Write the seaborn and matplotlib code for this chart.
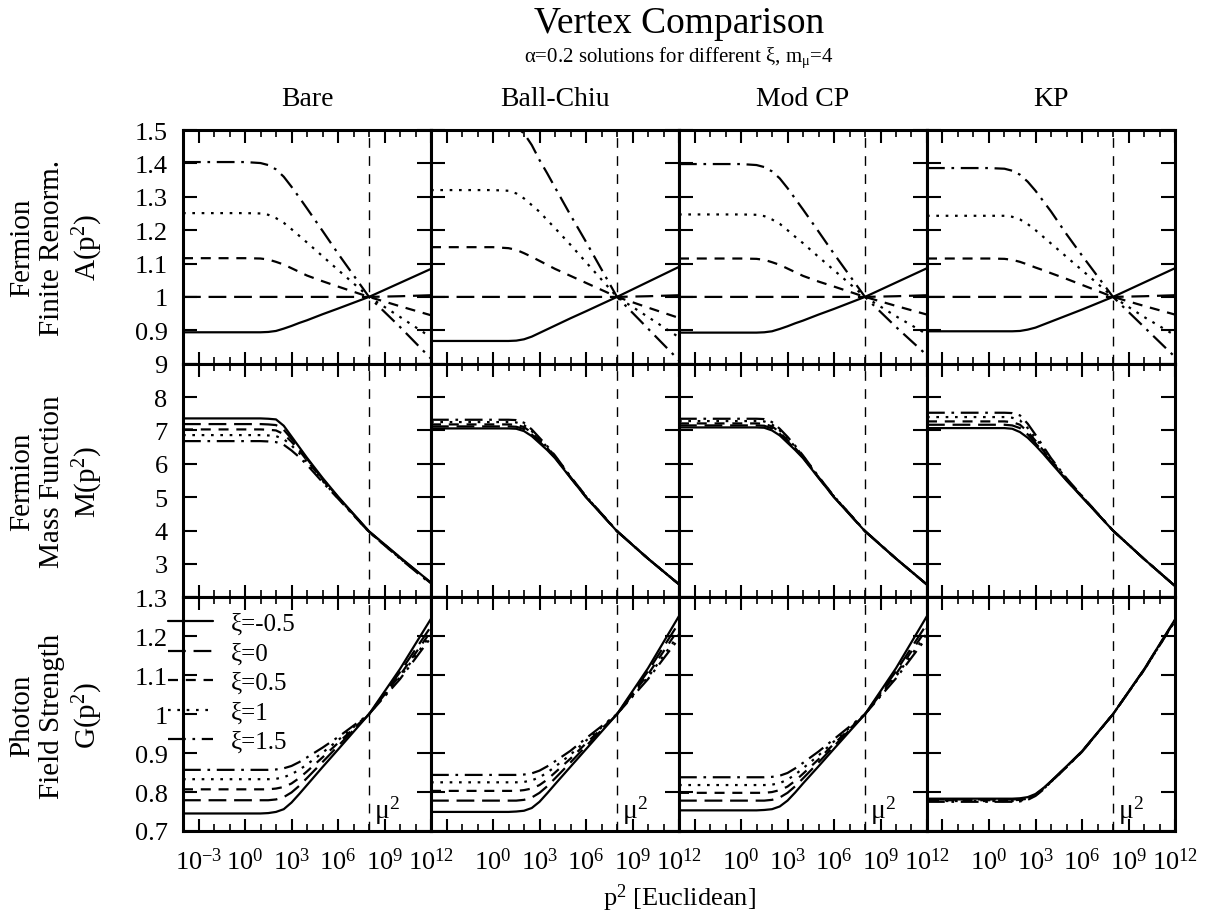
import numpy as np
import pandas as pd
import matplotlib
matplotlib.use("Agg")
import matplotlib.pyplot as plt
import seaborn as sns
from matplotlib.lines import Line2D
from matplotlib.ticker import FixedLocator, FuncFormatter, NullFormatter

# ---------------- data ----------------
LOGP = [-4, 0, 1, 1.5, 2, 2.5, 3, 3.5, 4, 5, 6, 8, 10, 12]   # log10 p^2
XI_LABELS = ["ξ=-0.5", "ξ=0", "ξ=0.5", "ξ=1", "ξ=1.5"]
VERTICES = ["Bare", "Ball-Chiu", "Mod CP", "KP"]
MU2 = 1e8

# Fermion finite renormalisation A(p^2)
A_BARE = [
    [0.894, 0.894, 0.894, 0.895, 0.898, 0.905, 0.913, 0.922, 0.930, 0.948, 0.965, 1.0, 1.042, 1.084],
    [1.000, 1.000, 1.000, 1.000, 1.000, 1.000, 1.000, 1.000, 1.000, 1.000, 1.000, 1.0, 1.002, 1.005],
    [1.116, 1.116, 1.115, 1.112, 1.105, 1.097, 1.086, 1.075, 1.064, 1.047, 1.031, 1.0, 0.972, 0.945],
    [1.251, 1.251, 1.250, 1.246, 1.236, 1.222, 1.203, 1.183, 1.163, 1.122, 1.081, 1.0, 0.940, 0.879],
    [1.404, 1.404, 1.401, 1.395, 1.382, 1.360, 1.330, 1.298, 1.265, 1.198, 1.130, 1.0, 0.910, 0.815],
]
A_BC = [
    [0.868, 0.868, 0.868, 0.869, 0.873, 0.881, 0.892, 0.903, 0.914, 0.936, 0.957, 1.0, 1.045, 1.090],
    [1.000, 1.000, 1.000, 1.000, 1.000, 1.000, 1.000, 1.000, 1.000, 1.000, 1.000, 1.0, 1.002, 1.005],
    [1.149, 1.149, 1.146, 1.141, 1.131, 1.120, 1.108, 1.096, 1.084, 1.063, 1.042, 1.0, 0.968, 0.937],
    [1.320, 1.320, 1.318, 1.310, 1.295, 1.275, 1.255, 1.230, 1.206, 1.156, 1.104, 1.0, 0.940, 0.879],
    [1.520, 1.520, 1.517, 1.508, 1.490, 1.455, 1.410, 1.370, 1.328, 1.245, 1.165, 1.0, 0.905, 0.810],
]
A_MCP = [
    [0.893, 0.893, 0.893, 0.894, 0.897, 0.904, 0.912, 0.921, 0.929, 0.947, 0.964, 1.0, 1.043, 1.086],
    [1.000, 1.000, 1.000, 1.000, 1.000, 1.000, 1.000, 1.000, 1.000, 1.000, 1.000, 1.0, 1.002, 1.005],
    [1.115, 1.115, 1.114, 1.111, 1.104, 1.096, 1.085, 1.074, 1.063, 1.046, 1.031, 1.0, 0.973, 0.947],
    [1.247, 1.247, 1.246, 1.242, 1.232, 1.219, 1.200, 1.180, 1.161, 1.120, 1.080, 1.0, 0.942, 0.888],
    [1.398, 1.398, 1.395, 1.389, 1.376, 1.355, 1.326, 1.294, 1.262, 1.196, 1.129, 1.0, 0.910, 0.825],
]
A_KP = [
    [0.897, 0.897, 0.897, 0.897, 0.898, 0.902, 0.908, 0.917, 0.926, 0.944, 0.962, 1.0, 1.043, 1.086],
    [1.000, 1.000, 1.000, 1.000, 1.000, 1.000, 1.000, 1.000, 1.000, 1.000, 1.000, 1.0, 1.002, 1.005],
    [1.115, 1.115, 1.114, 1.111, 1.105, 1.097, 1.088, 1.080, 1.071, 1.054, 1.036, 1.0, 0.973, 0.947],
    [1.243, 1.243, 1.243, 1.240, 1.232, 1.218, 1.200, 1.180, 1.160, 1.120, 1.080, 1.0, 0.940, 0.885],
    [1.386, 1.386, 1.384, 1.378, 1.366, 1.345, 1.318, 1.287, 1.256, 1.188, 1.124, 1.0, 0.910, 0.820],
]

# Fermion mass function M(p^2)
M_BARE = [
    [7.36, 7.36, 7.36, 7.35, 7.33, 7.14, 6.82, 6.50, 6.18, 5.58, 5.02, 3.98, 3.20, 2.44],
    [7.19, 7.19, 7.19, 7.18, 7.16, 7.02, 6.75, 6.46, 6.15, 5.55, 5.00, 3.97, 3.19, 2.43],
    [7.03, 7.03, 7.03, 7.02, 7.00, 6.89, 6.66, 6.40, 6.10, 5.52, 4.99, 3.97, 3.18, 2.42],
    [6.86, 6.86, 6.86, 6.85, 6.83, 6.74, 6.55, 6.32, 6.05, 5.49, 4.97, 3.96, 3.17, 2.41],
    [6.68, 6.68, 6.68, 6.67, 6.65, 6.57, 6.40, 6.20, 5.97, 5.45, 4.96, 3.96, 3.16, 2.40],
]
M_BC = [
    [7.06, 7.06, 7.06, 7.05, 6.98, 6.83, 6.62, 6.41, 6.17, 5.58, 5.00, 3.98, 3.16, 2.39],
    [7.12, 7.12, 7.12, 7.11, 7.04, 6.88, 6.66, 6.44, 6.19, 5.59, 5.00, 3.98, 3.16, 2.39],
    [7.18, 7.18, 7.18, 7.17, 7.10, 6.93, 6.70, 6.47, 6.21, 5.60, 5.01, 3.98, 3.16, 2.39],
    [7.25, 7.25, 7.25, 7.24, 7.16, 6.98, 6.74, 6.50, 6.23, 5.61, 5.02, 3.99, 3.16, 2.39],
    [7.32, 7.32, 7.32, 7.31, 7.23, 7.03, 6.78, 6.53, 6.25, 5.62, 5.03, 3.99, 3.16, 2.39],
]
M_MCP = [
    [7.09, 7.09, 7.09, 7.08, 7.00, 6.85, 6.63, 6.41, 6.17, 5.58, 5.00, 3.98, 3.16, 2.38],
    [7.15, 7.15, 7.15, 7.14, 7.06, 6.90, 6.67, 6.44, 6.19, 5.59, 5.00, 3.98, 3.16, 2.38],
    [7.21, 7.21, 7.21, 7.20, 7.12, 6.95, 6.71, 6.47, 6.21, 5.60, 5.01, 3.98, 3.16, 2.38],
    [7.28, 7.28, 7.28, 7.27, 7.18, 7.00, 6.76, 6.51, 6.23, 5.61, 5.02, 3.99, 3.16, 2.38],
    [7.35, 7.35, 7.35, 7.34, 7.25, 7.05, 6.81, 6.54, 6.25, 5.62, 5.03, 3.99, 3.16, 2.38],
]
M_KP = [
    [7.07, 7.07, 7.07, 7.05, 6.95, 6.78, 6.55, 6.30, 6.03, 5.50, 5.00, 4.00, 3.15, 2.34],
    [7.17, 7.17, 7.17, 7.15, 7.07, 6.88, 6.62, 6.35, 6.06, 5.51, 5.01, 4.00, 3.15, 2.34],
    [7.27, 7.27, 7.27, 7.25, 7.17, 6.96, 6.69, 6.40, 6.09, 5.53, 5.02, 4.00, 3.15, 2.34],
    [7.40, 7.40, 7.40, 7.38, 7.30, 7.07, 6.77, 6.46, 6.13, 5.55, 5.03, 4.00, 3.15, 2.34],
    [7.53, 7.53, 7.53, 7.52, 7.45, 7.20, 6.87, 6.52, 6.17, 5.57, 5.04, 4.00, 3.15, 2.34],
]

# Photon field strength G(p^2)
G_BARE = [
    [0.745, 0.745, 0.745, 0.746, 0.749, 0.756, 0.773, 0.795, 0.818, 0.864, 0.909, 1.0, 1.116, 1.245],
    [0.779, 0.779, 0.779, 0.779, 0.781, 0.787, 0.799, 0.816, 0.836, 0.877, 0.918, 1.0, 1.108, 1.225],
    [0.807, 0.807, 0.807, 0.807, 0.809, 0.813, 0.822, 0.836, 0.853, 0.889, 0.926, 1.0, 1.100, 1.213],
    [0.833, 0.833, 0.833, 0.833, 0.834, 0.838, 0.846, 0.857, 0.871, 0.901, 0.933, 1.0, 1.095, 1.205],
    [0.857, 0.857, 0.857, 0.857, 0.858, 0.861, 0.867, 0.877, 0.889, 0.914, 0.941, 1.0, 1.090, 1.197],
]
G_BC = [
    [0.749, 0.749, 0.749, 0.750, 0.752, 0.759, 0.775, 0.797, 0.820, 0.865, 0.910, 1.0, 1.118, 1.252],
    [0.778, 0.778, 0.778, 0.778, 0.780, 0.786, 0.798, 0.815, 0.835, 0.876, 0.918, 1.0, 1.110, 1.235],
    [0.803, 0.803, 0.803, 0.803, 0.805, 0.809, 0.818, 0.832, 0.850, 0.886, 0.925, 1.0, 1.102, 1.220],
    [0.825, 0.825, 0.825, 0.825, 0.826, 0.830, 0.838, 0.850, 0.865, 0.896, 0.932, 1.0, 1.095, 1.205],
    [0.844, 0.844, 0.844, 0.844, 0.845, 0.848, 0.855, 0.866, 0.879, 0.906, 0.938, 1.0, 1.090, 1.195],
]
G_MCP = [
    [0.753, 0.753, 0.753, 0.754, 0.756, 0.763, 0.778, 0.799, 0.822, 0.866, 0.911, 1.0, 1.118, 1.252],
    [0.778, 0.778, 0.778, 0.778, 0.780, 0.786, 0.798, 0.815, 0.835, 0.876, 0.918, 1.0, 1.110, 1.232],
    [0.798, 0.798, 0.798, 0.798, 0.800, 0.805, 0.814, 0.829, 0.847, 0.884, 0.924, 1.0, 1.103, 1.220],
    [0.818, 0.818, 0.818, 0.818, 0.819, 0.823, 0.832, 0.845, 0.861, 0.894, 0.930, 1.0, 1.097, 1.208],
    [0.838, 0.838, 0.838, 0.838, 0.839, 0.842, 0.849, 0.861, 0.875, 0.904, 0.936, 1.0, 1.092, 1.198],
]
G_KP = [
    [0.783, 0.783, 0.783, 0.783, 0.784, 0.787, 0.795, 0.810, 0.828, 0.866, 0.905, 1.0, 1.115, 1.243],
    [0.781, 0.781, 0.781, 0.781, 0.782, 0.785, 0.793, 0.809, 0.827, 0.865, 0.904, 1.0, 1.114, 1.242],
    [0.779, 0.779, 0.779, 0.779, 0.780, 0.783, 0.792, 0.808, 0.827, 0.865, 0.904, 1.0, 1.114, 1.241],
    [0.777, 0.777, 0.777, 0.777, 0.778, 0.782, 0.791, 0.807, 0.826, 0.864, 0.904, 1.0, 1.113, 1.240],
    [0.775, 0.775, 0.775, 0.775, 0.776, 0.780, 0.790, 0.806, 0.826, 0.864, 0.903, 1.0, 1.113, 1.239],
]

ROW_DATA = [
    [A_BARE, A_BC, A_MCP, A_KP],
    [M_BARE, M_BC, M_MCP, M_KP],
    [G_BARE, G_BC, G_MCP, G_KP],
]
ROW_LABELS = [
    "Fermion\nFinite Renorm.\nA(p$^2$)",
    "Fermion\nMass Function\nM(p$^2$)",
    "Photon\nField Strength\nG(p$^2$)",
]
ROW_YLIM = [(0.8, 1.5), (2.0, 9.0), (0.7, 1.3)]
ROW_YTICKS = [
    [0.8, 0.9, 1.0, 1.1, 1.2, 1.3, 1.4, 1.5],
    [2, 3, 4, 5, 6, 7, 8, 9],
    [0.7, 0.8, 0.9, 1.0, 1.1, 1.2, 1.3],
]
ROW_YTICKLABELS = [
    ["", "0.9", "1", "1.1", "1.2", "1.3", "1.4", "1.5"],
    ["", "3", "4", "5", "6", "7", "8", "9"],
    ["0.7", "0.8", "0.9", "1", "1.1", "1.2", "1.3"],
]
X_MAJOR = [1e-3, 1e0, 1e3, 1e6, 1e9, 1e12]

# ---------------- style ----------------
sns.set_theme(style="white")
plt.rcParams["font.family"] = ["Liberation Serif", "DejaVu Serif"]
plt.rcParams["mathtext.fontset"] = "custom"
plt.rcParams["mathtext.rm"] = "Liberation Serif"
plt.rcParams["mathtext.it"] = "Liberation Serif:italic"
plt.rcParams["mathtext.bf"] = "Liberation Serif:bold"
plt.rcParams["text.color"] = "black"
plt.rcParams["axes.labelcolor"] = "black"
plt.rcParams["xtick.color"] = "black"
plt.rcParams["ytick.color"] = "black"

DASHES = {
    XI_LABELS[0]: "",
    XI_LABELS[1]: (8, 3.5),
    XI_LABELS[2]: (4.5, 3.5),
    XI_LABELS[3]: (1.2, 3.0),
    XI_LABELS[4]: (8, 3.0, 1.2, 3.0),
}
LW = 1.6
FS = 19

fig, axes = plt.subplots(3, 4, figsize=(12.07, 9.2), dpi=100)
fig.subplots_adjust(left=183 / 1207, right=1175 / 1207,
                    top=1 - 131 / 920, bottom=1 - 832 / 920,
                    wspace=0, hspace=0)

for r in range(3):
    for c in range(4):
        ax = axes[r][c]
        series = ROW_DATA[r][c]
        rows = []
        for lab, vals in zip(XI_LABELS, series):
            for lp, v in zip(LOGP, vals):
                rows.append({"p2": 10.0 ** lp, "val": v, "xi": lab})
        df = pd.DataFrame(rows)
        ax.set_xscale("log")
        sns.lineplot(data=df, x="p2", y="val", style="xi",
                     style_order=XI_LABELS, dashes=DASHES, color="black",
                     linewidth=LW, legend=False, ax=ax,
                     estimator=None, sort=False)
        ax.axvline(MU2, color="black", lw=1.0, ls=(0, (7, 6)))
        ax.set_xlim(1e-4, 1e12)
        ax.set_ylim(*ROW_YLIM[r])
        ax.set_xlabel("")
        ax.set_ylabel("")

        ax.xaxis.set_major_locator(FixedLocator(X_MAJOR))
        ax.xaxis.set_minor_locator(FixedLocator([10.0 ** k for k in range(-4, 13)]))
        ax.xaxis.set_minor_formatter(NullFormatter())
        if r == 2:
            def fmt(v, pos, c=c):
                k = int(round(np.log10(v)))
                if c > 0 and k == -3:
                    return ""
                return r"10$^{%d}$" % k
            ax.xaxis.set_major_formatter(FuncFormatter(fmt))
        else:
            ax.xaxis.set_major_formatter(NullFormatter())

        ax.yaxis.set_major_locator(FixedLocator(ROW_YTICKS[r]))
        if c == 0:
            ax.set_yticklabels(ROW_YTICKLABELS[r])
        else:
            ax.yaxis.set_major_formatter(NullFormatter())

        ax.tick_params(which="both", direction="in", top=True, right=True,
                       bottom=True, left=True, colors="black",
                       labelsize=FS, labelcolor="black")
        ax.tick_params(axis="x", which="major", length=9, width=1.5, pad=12)
        ax.tick_params(axis="x", which="minor", length=5, width=1.2)
        ax.tick_params(axis="y", which="major", length=10, width=1.5, pad=11)
        for sp in ax.spines.values():
            sp.set_visible(True)
            sp.set_color("black")
            sp.set_linewidth(2.2)

        if r == 2:
            ax.text(10 ** 8.35, 0.712, "μ$^2$", fontsize=FS + 1, ha="left", va="bottom")

# legend in the bottom-left panel
handles = []
for lab in XI_LABELS:
    d = DASHES[lab]
    if d == "":
        handles.append(Line2D([], [], color="black", lw=LW, ls="-"))
    else:
        handles.append(Line2D([], [], color="black", lw=LW, dashes=d))
axes[2][0].legend(handles, XI_LABELS, loc="upper left",
                  bbox_to_anchor=((168 - 183) / 248, (832 - 614) / 233),
                  frameon=False, fontsize=18, handlelength=1.8,
                  handletextpad=0.7, labelspacing=0.28, borderpad=0,
                  borderaxespad=0)

# column titles
for c, name in enumerate(VERTICES):
    xc = (183 + 248 * c + 124) / 1207
    fig.text(xc, 1 - 100 / 920, name, ha="center", va="center", fontsize=FS + 1)

# row labels
for r, lab in enumerate(ROW_LABELS):
    yc = 1 - (131 + 234 * r + 117) / 920
    fig.text(57 / 1207, yc, lab, rotation=90, ha="center", va="center",
             multialignment="center", fontsize=21, linespacing=1.2)

fig.text(679 / 1207, 1 - 24 / 920, "Vertex Comparison", ha="center",
         va="center", fontsize=27)
fig.text(679 / 1207, 1 - 58 / 920,
         r"α=0.2 solutions for different ξ, m$_{\mathrm{μ}}$=4",
         ha="center", va="center", fontsize=15)
fig.text(679 / 1207, 1 - 898 / 920, "p$^2$ [Euclidean]", ha="center",
         va="center", fontsize=FS)

fig.savefig("out.png", dpi=100)
